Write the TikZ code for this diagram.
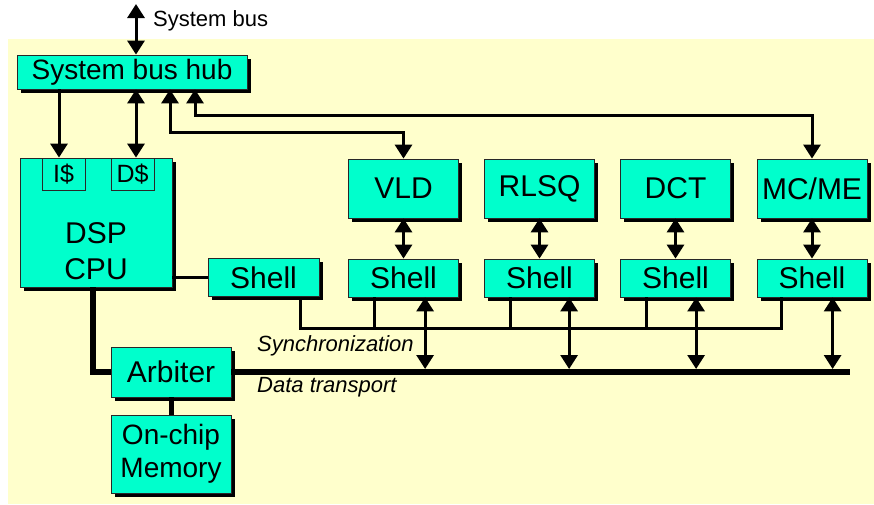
\documentclass[tikz,border=0pt]{standalone}
\usepackage{fontspec}
\setmainfont{Liberation Sans}
\usetikzlibrary{arrows.meta,shadows}
\definecolor{sbAqua} {RGB}{  0,255,204}
\definecolor{sbCream}{RGB}{255,255,204}
\definecolor{sbEdge} {RGB}{ 40, 40, 40}

\begin{document}
\begin{tikzpicture}[x=1pt,y=-1pt,
  every node/.style={font=\fontsize{30}{36}\selectfont},
  block/.style={draw=sbEdge,fill=sbAqua,line width=0.8pt,inner sep=0pt,align=center,
                drop shadow={shadow xshift=3.5pt,shadow yshift=-3.5pt,fill=black,opacity=1}},
  hubbox/.style={block,minimum width=230pt,minimum height=34pt,
                 font=\fontsize{28}{28}\selectfont},
  unit/.style={block,minimum width=110pt,minimum height=59pt},
  shell/.style={block,minimum width=110pt,minimum height=38pt},
  cache/.style={draw=sbEdge,fill=sbAqua,line width=0.8pt,inner sep=0pt,
                minimum width=43pt,minimum height=32pt,font=\fontsize{25}{25}\selectfont},
  note/.style={inner sep=0pt,anchor=west,font=\fontsize{22}{22}\selectfont\itshape},
  link/.style={line width=3pt},
  twoway/.style={link,{Triangle[length=14pt,width=17pt]}-{Triangle[length=14pt,width=17pt]}},
  oneway/.style={link,-{Triangle[length=14pt,width=17pt]}},
  bus/.style={line width=6pt}
]
\useasboundingbox (0,0) rectangle (874,504);
\fill[sbCream] (8,39) rectangle (874,504);

% host side
\node[hubbox] (hub) at (132,72) {System bus hub};
\node[block,minimum width=152pt,minimum height=129pt] (cpu) at (96,222.5) {};
\node[cache] (icache) at (63.5,174) {I\$};
\node[cache] (dcache) at (132.5,174) {D\$};
\node[align=center,inner sep=0pt] (cpulbl) at (96,251.5) {DSP\\CPU};
\node[shell,minimum width=111pt] (sh0) at (263.5,277.5) {Shell};
\node[block,minimum width=120pt,minimum height=50pt] (arb) at (171,372) {Arbiter};
\node[block,minimum width=120pt,minimum height=78pt,
      font=\fontsize{28}{33}\selectfont] (mem) at (171,454) {On-chip\\Memory};

% coprocessors and their shells
\foreach \u/\x/\t in {vld/403.5/VLD,rlsq/539.5/RLSQ,dct/675.5/DCT,mcme/812/{MC/ME}}{
  \node[unit]  (\u)  at (\x,188.5) {\t};
  \node[shell] (s\u) at (\x,278)   {Shell};
}

\coordinate (sysbus) at (136,4);
\coordinate (sync)   at (300,328);
\coordinate (busend) at (850,372);

\draw[twoway] (sysbus) -- (sysbus |- hub.north);
\node[note,font=\fontsize{22}{22}\selectfont] (buslbl) at (153,21) {System bus};

\draw[oneway] ([xshift=-4.5pt]icache.north |- hub.south) -- ([xshift=-4.5pt]icache.north);
\draw[twoway] ([xshift=3.5pt]dcache.north |- hub.south) -- ([xshift=3.5pt]dcache.north);
\draw[twoway] ([xshift=38pt]hub.south) |- ([yshift=26pt]vld.north) -- (vld.north);
\draw[twoway] ([xshift=63pt]hub.south) |- ([yshift=43pt]mcme.north) -- (mcme.north);

\draw[link] (cpu.east |- sh0) -- (sh0.west);
\foreach \u in {vld,rlsq,dct,mcme}
  \draw[twoway] (\u.south) -- (s\u.north);

% synchronization
\draw[link] (sh0.south -| sync) -- (sync)
  -- ([xshift=25pt]smcme.south west |- sync) -- ([xshift=25pt]smcme.south west);
\foreach \u in {vld,rlsq,dct}
  \draw[link] ([xshift=26pt]s\u.south west) -- ([xshift=26pt]s\u.south west |- sync);
\node[note] (synclbl) at (257,346) {Synchronization};

% data transport
\draw[bus] ([xshift=-3pt]cpu.south) |- (arb.west);
\draw[bus] (arb.east) -- (busend);
\draw[line width=5pt] (arb.south) -- (mem.north);
\foreach \u/\dx in {vld/77,rlsq/85,dct/76,mcme/76}
  \draw[twoway,shorten >=3pt] ([xshift=\dx]s\u.south west) -- ([xshift=\dx]s\u.south west |- busend);
\node[note] (datalbl) at (257,387) {Data transport};
\end{tikzpicture}
\end{document}
